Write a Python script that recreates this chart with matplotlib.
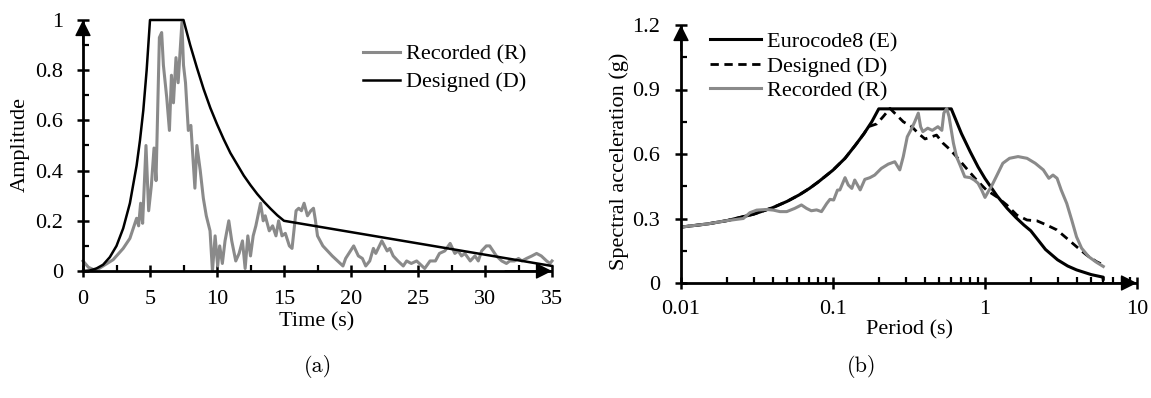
import matplotlib
matplotlib.use('Agg')
import matplotlib.pyplot as plt
from matplotlib.ticker import MultipleLocator, FixedLocator, LogLocator, NullFormatter, FuncFormatter

# ---------------- data: panel (a) ----------------
t_recorded = [0, 0.4, 0.8, 1.2, 1.5, 2.25, 3.0, 3.5, 4.0, 4.15, 4.3, 4.45, 4.7, 4.9, 5.1, 5.3, 5.45,
              5.7, 5.87, 6.0, 6.25, 6.45, 6.6, 6.75, 6.94, 7.1, 7.24, 7.38, 7.5, 7.65, 7.86, 8.05,
              8.35, 8.5, 8.75, 8.98, 9.2, 9.48, 9.66, 9.86, 10.05, 10.2, 10.4, 10.6, 10.88, 11.1,
              11.4, 11.65, 11.9, 12.1, 12.3, 12.5, 12.7, 12.9, 13.25, 13.45, 13.6, 13.9, 14.15,
              14.4, 14.6, 14.85, 15.1, 15.4, 15.6, 15.9, 16.1, 16.3, 16.5, 16.75, 17.0, 17.2,
              17.35, 17.5, 17.9, 18.25, 18.6, 19.0, 19.4, 19.6, 20.2, 20.55, 20.85, 21.1, 21.4,
              21.67, 21.85, 22.3, 22.7, 22.9, 23.15, 23.5, 23.9, 24.15, 24.5, 24.9, 25.3, 25.5,
              25.9, 26.3, 26.6, 27.0, 27.4, 27.75, 28.0, 28.25, 28.5, 28.9, 29.25, 29.5, 29.75,
              30.1, 30.35, 30.6, 30.85, 31.25, 31.6, 31.85, 32.2, 32.5, 32.75, 33.1, 33.5, 33.85,
              34.2, 34.6, 34.85, 35.0]
amp_recorded = [0.04, 0.015, 0.005, 0.01, 0.02, 0.045, 0.09, 0.13, 0.21, 0.18, 0.27, 0.19, 0.50, 0.24,
                0.34, 0.49, 0.36, 0.93, 0.95, 0.82, 0.69, 0.56, 0.78, 0.67, 0.85, 0.75, 0.87, 0.99,
                0.82, 0.75, 0.56, 0.58, 0.33, 0.50, 0.40, 0.29, 0.22, 0.16, 0.0, 0.14, 0.02, 0.10,
                0.03, 0.12, 0.20, 0.12, 0.04, 0.07, 0.12, 0.01, 0.14, 0.06, 0.14, 0.18, 0.27, 0.20,
                0.22, 0.16, 0.18, 0.14, 0.20, 0.14, 0.15, 0.10, 0.09, 0.24, 0.25, 0.24, 0.27, 0.22,
                0.24, 0.25, 0.20, 0.14, 0.10, 0.08, 0.06, 0.04, 0.02, 0.05, 0.10, 0.06, 0.05, 0.02,
                0.04, 0.09, 0.07, 0.12, 0.08, 0.09, 0.06, 0.04, 0.02, 0.04, 0.03, 0.04, 0.02, 0.01,
                0.04, 0.04, 0.07, 0.08, 0.11, 0.07, 0.08, 0.06, 0.07, 0.04, 0.06, 0.04, 0.08, 0.10,
                0.10, 0.08, 0.06, 0.04, 0.03, 0.04, 0.04, 0.05, 0.04, 0.05, 0.06, 0.07, 0.06, 0.04,
                0.03, 0.04]

t_designed = [0, 0.5, 1, 1.5, 2, 2.5, 3, 3.5, 4, 4.25, 4.5, 4.75, 5, 7.5, 8, 8.5, 9, 9.5, 10, 10.5,
              11, 11.5, 12, 12.5, 13, 13.5, 14, 14.5, 15, 35]
amp_designed = [0, 0.002, 0.01, 0.025, 0.055, 0.10, 0.17, 0.27, 0.42, 0.52, 0.64, 0.80, 1.0, 1.0,
                0.90, 0.81, 0.725, 0.65, 0.585, 0.525, 0.47, 0.425, 0.38, 0.342, 0.307, 0.276,
                0.248, 0.222, 0.2, 0.02]

# ---------------- data: panel (b) ----------------
T_euro = [0.01, 0.015, 0.02, 0.03, 0.04, 0.05, 0.06, 0.07, 0.08, 0.1, 0.12, 0.14, 0.16, 0.18, 0.2,
          0.6, 0.7, 0.8, 0.9, 1.0, 1.2, 1.4, 1.6, 1.8, 2.0, 2.5, 3.0, 3.5, 4.0, 5.0, 6.0, 6.0]
Sa_euro = [0.26, 0.275, 0.29, 0.32, 0.35, 0.38, 0.41, 0.44, 0.47, 0.525, 0.58, 0.64, 0.695, 0.75,
           0.81, 0.81, 0.695, 0.61, 0.54, 0.486, 0.405, 0.347, 0.304, 0.27, 0.243, 0.156, 0.108,
           0.079, 0.061, 0.039, 0.027, 0.018]

T_designed = [0.01, 0.015, 0.02, 0.03, 0.04, 0.05, 0.06, 0.07, 0.08, 0.1, 0.12, 0.14, 0.16, 0.171,
              0.194, 0.214, 0.237, 0.263, 0.29, 0.33, 0.364, 0.403, 0.445, 0.48, 0.53, 0.59, 0.65,
              0.755, 0.88, 1.02, 1.2, 1.39, 1.62, 1.89, 2.2, 2.54, 2.97, 3.45, 4.0, 4.66, 5.42, 6.0]
Sa_designed = [0.26, 0.275, 0.29, 0.32, 0.35, 0.38, 0.41, 0.44, 0.47, 0.525, 0.58, 0.64, 0.695, 0.727,
               0.74, 0.774, 0.812, 0.78, 0.75, 0.727, 0.696, 0.67, 0.68, 0.688, 0.65, 0.62, 0.587,
               0.533, 0.479, 0.433, 0.40, 0.363, 0.316, 0.293, 0.289, 0.27, 0.247, 0.208, 0.169,
               0.13, 0.099, 0.084]

T_recorded = [0.01, 0.015, 0.02, 0.0257, 0.0284, 0.0315, 0.0366, 0.0405, 0.0448, 0.0496, 0.056, 0.062,
              0.067, 0.072, 0.078, 0.084, 0.091, 0.0955, 0.101, 0.107, 0.111, 0.12, 0.126, 0.133,
              0.139, 0.151, 0.162, 0.175, 0.188, 0.208, 0.231, 0.255, 0.275, 0.29, 0.308, 0.33,
              0.345, 0.364, 0.377, 0.39, 0.42, 0.45, 0.49, 0.52, 0.536, 0.56, 0.58, 0.62, 0.65,
              0.684, 0.736, 0.8, 0.85, 0.9, 0.95, 1.0, 1.05, 1.1, 1.2, 1.31, 1.45, 1.65, 1.89,
              2.14, 2.42, 2.63, 2.8, 2.98, 3.17, 3.45, 3.72, 4.0, 4.32, 4.8, 5.42, 6.0]
Sa_recorded = [0.26, 0.275, 0.29, 0.30, 0.327, 0.339, 0.342, 0.339, 0.332, 0.332, 0.347, 0.363, 0.347,
               0.336, 0.34, 0.332, 0.37, 0.389, 0.386, 0.432, 0.433, 0.49, 0.456, 0.44, 0.479, 0.433,
               0.482, 0.49, 0.502, 0.533, 0.553, 0.564, 0.526, 0.588, 0.68, 0.72, 0.75, 0.79, 0.727,
               0.704, 0.72, 0.71, 0.727, 0.71, 0.79, 0.812, 0.774, 0.65, 0.587, 0.55, 0.494, 0.49,
               0.479, 0.464, 0.433, 0.398, 0.425, 0.448, 0.502, 0.557, 0.58, 0.588, 0.58, 0.557,
               0.526, 0.487, 0.502, 0.487, 0.433, 0.37, 0.293, 0.215, 0.162, 0.123, 0.096, 0.077]

labels_a = ['Recorded (R)', 'Designed (D)']
labels_b = ['Eurocode8 (E)', 'Designed (D)', 'Recorded (R)']
yticks_a = [0, 0.2, 0.4, 0.6, 0.8, 1.0]
xticks_a = [0, 5, 10, 15, 20, 25, 30, 35]
yticks_b = [0, 0.3, 0.6, 0.9, 1.2]
xticks_b = [0.01, 0.1, 1, 10]

GRAY = '#8a8a8a'
plt.rcParams['font.family'] = ['Liberation Serif', 'DejaVu Serif']
plt.rcParams['font.size'] = 16
W, H = 1151, 398

fig = plt.figure(figsize=(W / 100, H / 100), dpi=100)
ax1 = fig.add_axes([83 / W, 1 - 271 / H, (552 - 83) / W, (271 - 20) / H])
ax2 = fig.add_axes([681 / W, 1 - 283 / H, (1137 - 681) / W, (283 - 25) / H])

fmt = FuncFormatter(lambda v, p: '%g' % v)


def style(ax, xpad, ypad):
    for s in ['top', 'right']:
        ax.spines[s].set_visible(False)
    for s in ['left', 'bottom']:
        ax.spines[s].set_linewidth(2.0)
        ax.spines[s].set_capstyle('butt')
    ax.tick_params(which='major', direction='inout', length=9, width=1.8)
    ax.tick_params(which='minor', direction='in', length=4.5, width=1.6)
    ax.tick_params(axis='x', which='major', pad=xpad)
    ax.tick_params(axis='y', which='major', pad=ypad)
    ax.patch.set_visible(False)
    kw = dict(arrowstyle='-|>,head_length=0.5,head_width=0.25', color='k', lw=1,
              shrinkA=0, shrinkB=0, mutation_scale=20)
    ax.annotate('', xy=(0, 1), xytext=(0, 0.9), xycoords='axes fraction',
                arrowprops=kw, annotation_clip=False)
    ax.annotate('', xy=(1, 0), xytext=(0.9, 0), xycoords='axes fraction',
                arrowprops=kw, annotation_clip=False)


# ---- panel (a)
ax1.plot(t_recorded, amp_recorded, color=GRAY, lw=2.2, clip_on=False, label=labels_a[0])
ax1.plot(t_designed, amp_designed, color='k', lw=1.8, clip_on=False, label=labels_a[1])
ax1.set_xlim(0, 35)
ax1.set_ylim(0, 1)
ax1.xaxis.set_major_locator(FixedLocator(xticks_a))
ax1.xaxis.set_minor_locator(MultipleLocator(2.5))
ax1.yaxis.set_major_locator(FixedLocator(yticks_a))
ax1.yaxis.set_minor_locator(MultipleLocator(0.1))
ax1.xaxis.set_major_formatter(fmt)
ax1.yaxis.set_major_formatter(fmt)
style(ax1, 9.2, 9.9)
leg1 = ax1.legend(loc='upper left', bbox_to_anchor=(0.597, 0.905), frameon=False,
                  borderpad=0, borderaxespad=0, handlelength=1.67, handletextpad=0.27,
                  labelspacing=0.33)

# ---- panel (b)
ax2.set_xscale('log')
ax2.plot(T_euro, Sa_euro, color='k', lw=2.2, label=labels_b[0])
ax2.plot(T_designed, Sa_designed, color='k', lw=2.0, ls=(0, (3, 2)), label=labels_b[1])
ax2.plot(T_recorded, Sa_recorded, color=GRAY, lw=2.2, label=labels_b[2])
ax2.set_xlim(0.01, 10)
ax2.set_ylim(0, 1.2)
ax2.xaxis.set_major_locator(FixedLocator(xticks_b))
ax2.xaxis.set_minor_locator(LogLocator(base=10, subs=range(2, 10)))
ax2.xaxis.set_minor_formatter(NullFormatter())
ax2.yaxis.set_major_locator(FixedLocator(yticks_b))
ax2.yaxis.set_minor_locator(MultipleLocator(0.15))
ax2.xaxis.set_major_formatter(fmt)
ax2.yaxis.set_major_formatter(fmt)
style(ax2, 7.7, 10.6)
leg2 = ax2.legend(loc='upper left', bbox_to_anchor=((710 - 681) / 456, 0.975), frameon=False,
                  borderpad=0, borderaxespad=0, handlelength=2.3, handletextpad=0.25,
                  labelspacing=0.18)

# ---- axis titles and panel captions
fig.text(317 / W, 1 - 322 / H, 'Time (s)', ha='center', va='center')
fig.text(20 / W, 1 - 145 / H, 'Amplitude', ha='center', va='center', rotation=90)
fig.text(910 / W, 1 - 330 / H, 'Period (s)', ha='center', va='center')
fig.text(619 / W, 1 - 161 / H, 'Spectral acceleration (g)', ha='center', va='center', rotation=90)
fig.text(318 / W, 1 - 366 / H, '(a)', ha='center', va='center', family=['cmr10', 'DejaVu Serif'])
fig.text(862 / W, 1 - 366 / H, '(b)', ha='center', va='center', family=['cmr10', 'DejaVu Serif'])

fig.savefig('out.png', dpi=100)
